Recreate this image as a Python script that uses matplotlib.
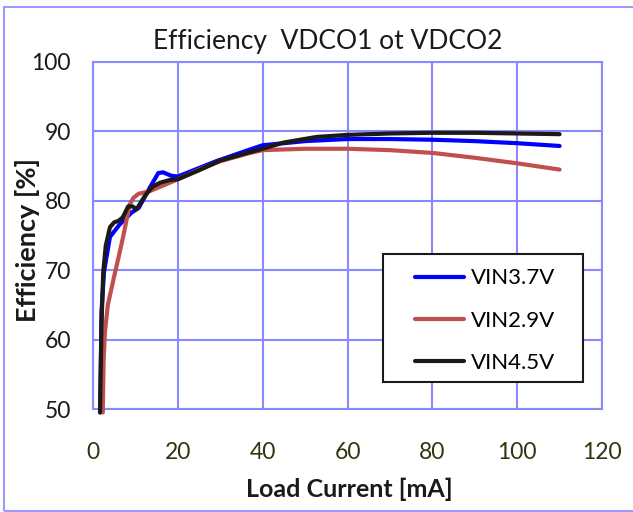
import matplotlib
matplotlib.use("Agg")
import matplotlib.pyplot as plt
from matplotlib.patches import Rectangle

plt.rcParams['font.family'] = ['Lato', 'DejaVu Sans']

# curves (load current in mA, efficiency in %)
x_37 = [1.7, 2.0, 2.6, 4.0, 6.3, 9.1, 10.8, 13.4, 15.4, 16.5, 18.5, 20, 29, 38, 40, 50, 60, 70, 80, 90, 100, 110]
y_37 = [49.5, 64, 69.8, 74.8, 76.6, 78.3, 79.0, 81.9, 84.0, 84.1, 83.6, 83.5, 85.7, 87.6, 88.0, 88.6, 88.9, 88.9, 88.8, 88.6, 88.3, 87.9]

x_29 = [2.3, 2.5, 2.8, 3.5, 4.8, 6.0, 7.1, 8.0, 8.7, 9.5, 10.7, 13.4, 17.3, 20, 25, 30, 37, 40, 50, 60, 70, 80, 90, 100, 110]
y_29 = [49.5, 57, 61, 65, 68.6, 71.8, 74.8, 77.5, 79.5, 80.4, 81.0, 81.4, 82.4, 83.1, 84.5, 85.7, 86.9, 87.3, 87.5, 87.5, 87.3, 86.9, 86.2, 85.4, 84.5]

x_45 = [1.65, 2.0, 2.4, 3.0, 4.0, 5.0, 6.0, 7.0, 8.3, 9.3, 10.3, 11.5, 12.6, 14.0, 15.8, 18.1, 20, 25, 30, 37, 40, 45, 52.7, 60, 70, 80, 90, 100, 110]
y_45 = [49.5, 62, 69.6, 73.5, 76.2, 76.9, 77.1, 77.6, 79.2, 79.2, 78.8, 80.0, 81.0, 82.0, 82.6, 83.0, 83.1, 84.4, 85.8, 87.0, 87.5, 88.4, 89.2, 89.5, 89.7, 89.8, 89.8, 89.7, 89.6]

series = [
    ("VIN3.7V", x_37, y_37, "#0000ff"),
    ("VIN2.9V", x_29, y_29, "#c0504d"),
    ("VIN4.5V", x_45, y_45, "#1c1a14"),
]

x_ticks = [0, 20, 40, 60, 80, 100, 120]
y_ticks = [50, 60, 70, 80, 90, 100]

grid_col = "#8a8aff"

fig = plt.figure(figsize=(6.33, 5.12), dpi=100)
fig.patches.append(Rectangle((4 / 633, 1 / 512), 1.1, 504 / 512, transform=fig.transFigure,
                             fill=False, edgecolor="#9a9aff", linewidth=1.5))
ax = fig.add_axes([93 / 633, 1 - 409 / 512, 509 / 633, 347 / 512])

for label, xs, ys, col in series:
    ax.plot(xs, ys, color=col, linewidth=3, label=label, solid_capstyle='round',
            solid_joinstyle='round', clip_on=False, zorder=3)

ax.set_xlim(0, 120)
ax.set_ylim(50, 100)
ax.set_xticks(x_ticks)
ax.set_yticks(y_ticks)
ax.grid(True, color=grid_col, linewidth=1.5)
ax.set_axisbelow(True)
for sp in ax.spines.values():
    sp.set_color(grid_col)
    sp.set_linewidth(1.5)
ax.tick_params(axis='both', length=0, labelsize=16.5)
ax.tick_params(axis='x', pad=24, labelcolor="#333310")
ax.tick_params(axis='y', pad=16, labelcolor="#1a1a1a")

fig.text(328 / 633, 1 - 42 / 512, "Efficiency  VDCO1 ot VDCO2", ha='center', va='center',
         fontsize=19, color="#1a1a1a")
fig.text(349 / 633, 1 - 489 / 512, "Load Current [mA]", ha='center', va='center',
         fontsize=18, fontweight='bold', color="#1a1a1a")
fig.text(27 / 633, 1 - 240 / 512, "Efficiency [%]", ha='center', va='center', rotation=90,
         fontsize=19.5, fontweight='bold', color="#1a1a1a")

# legend box drawn separately, legend itself frameless
ax.add_patch(Rectangle((0.570, 0.078), 0.393, 0.369, transform=ax.transAxes,
                       facecolor='white', edgecolor="#1a1a1a", linewidth=1.5, zorder=4))
leg = ax.legend(loc='upper left', bbox_to_anchor=(0.633, 0.405), frameon=False,
                fontsize=16, handlelength=2.2, labelspacing=1.0, borderpad=0,
                borderaxespad=0, handletextpad=0.3)
leg.set_zorder(5)

fig.savefig("out.png", dpi=100)
